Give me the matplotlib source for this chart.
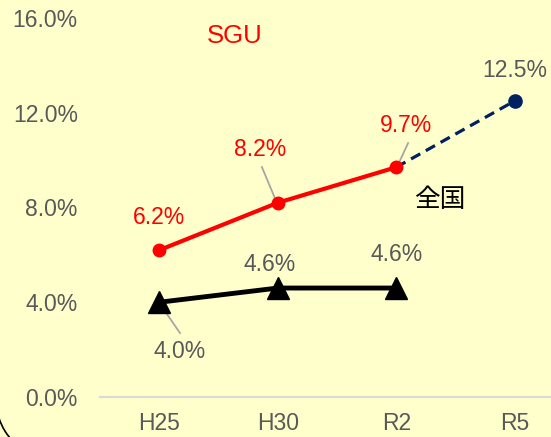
import matplotlib

matplotlib.use("Agg")
import matplotlib.pyplot as plt
from matplotlib.patches import Arc

plt.rcParams["font.family"] = ["Liberation Sans", "Noto Sans CJK JP", "DejaVu Sans"]

categories = ["H25", "H30", "R2", "R5"]
sgu = [6.2, 8.2, 9.7]
sgu_target = [9.7, 12.5]
national = [4.0, 4.6, 4.6]
y_ticks = [0, 4, 8, 12, 16]

bg = "#FFFFCC"
gray_text = "#595959"
W, H = 551, 437

fig = plt.figure(figsize=(W / 100, H / 100), dpi=100, facecolor=bg)
# plot area runs past the right edge like in the source
ax = fig.add_axes([100 / W, 40 / H, 474 / W, 379 / H])
ax.set_facecolor(bg)
ax.set_xlim(-0.5, 3.5)
ax.set_ylim(0, 16)

x = list(range(len(categories)))
ax.plot(x[:3], sgu, color="#FF0000", lw=3, marker="o", ms=9, zorder=3)
ax.plot(x[2:4], sgu_target, color="#002060", lw=2.3, ls=(0, (3.3, 2.0)), zorder=2)
ax.plot(x[3], sgu_target[1], color="#002060", marker="o", ms=9.5, zorder=3)
ax.plot(x[:3], national, color="black", lw=3.5, marker="^", ms=15.5, zorder=3)

ax.set_yticks(y_ticks)
ax.set_yticklabels([f"{v:.1f}%" for v in y_ticks], fontsize=16.5, color=gray_text)
ax.set_xticks(x)
ax.set_xticklabels(categories, fontsize=16.5, color=gray_text)
ax.tick_params(length=0)
ax.tick_params(axis="x", pad=11)
ax.tick_params(axis="y", pad=16)
for side in ("top", "right", "left"):
    ax.spines[side].set_visible(False)
ax.spines["bottom"].set_color("#D9D9D9")
ax.spines["bottom"].set_linewidth(1.5)

# data labels
lab = dict(fontsize=16.5, ha="center", va="center")
ax.text(0, 7.56, "6.2%", color="#FF0000", **lab)
ax.text(0.85, 10.43, "8.2%", color="#FF0000", **lab)
ax.text(2.08, 11.48, "9.7%", color="#FF0000", **lab)
ax.text(3.0, 13.8, "12.5%", color=gray_text, **lab)
ax.text(0.175, 1.9, "4.0%", color=gray_text, **lab)
ax.text(0.93, 5.61, "4.6%", color=gray_text, **lab)
ax.text(2.0, 6.0, "4.6%", color=gray_text, **lab)
ax.text(0.64, 15.26, "SGU", color="#FF0000", fontsize=18.5, ha="center", va="center")
ax.text(2.37, 8.32, "全国", color="black", fontsize=18.5, ha="center", va="center")

# leader lines
lc = dict(color="#A6A6A6", lw=1.3, zorder=1)
ax.plot([0.866, 0.993], [9.71, 8.19], **lc)
ax.plot([2.10, 2.01], [10.72, 9.75], **lc)
ax.plot([0.006, 0.175], [3.93, 2.70], **lc)

# rounded frame corner peeking in at the bottom left
fig.patches.append(Arc((56 / W, 37.5 / H), 120 / W, 120 / H, theta1=185, theta2=245,
                       transform=fig.transFigure, edgecolor="black", lw=1.2))

fig.savefig("out.png", dpi=100, facecolor=bg)
